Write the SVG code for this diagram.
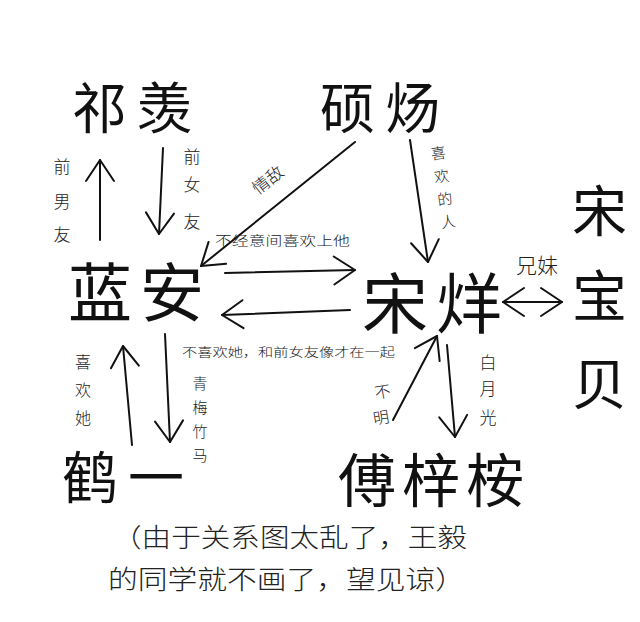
<svg xmlns="http://www.w3.org/2000/svg" width="640" height="622" viewBox="0 0 640 622">
<style>
.name{font-family:"Noto Sans CJK SC","Noto Sans CJK JP",sans-serif;fill:#111;font-weight:400}
.lbl{font-family:"Noto Sans CJK SC","Noto Sans CJK JP",sans-serif;fill:#222;font-weight:300;text-anchor:middle}
.cap{font-family:"Noto Sans CJK SC","Noto Sans CJK JP",sans-serif;fill:#222;font-weight:300}
.con{fill:none;stroke:#111;stroke-width:2;stroke-linecap:round}
</style>
<defs>
<marker id="ah" viewBox="-23 -16 26 32" markerWidth="26" markerHeight="32" refX="0" refY="0" orient="auto-start-reverse" markerUnits="userSpaceOnUse">
<path d="M-21,-14 L0,0 L-21,14" fill="none" stroke="#111" stroke-width="2" stroke-linecap="round" stroke-linejoin="round"/>
</marker>
</defs>
<rect width="640" height="622" fill="#fff"/>

<g id="connectors">
<line class="con" x1="100" y1="240" x2="100" y2="160" marker-end="url(#ah)"/>
<line class="con" x1="163" y1="148" x2="159" y2="234" marker-end="url(#ah)"/>
<line class="con" x1="355" y1="142" x2="201" y2="266" marker-end="url(#ah)"/>
<line class="con" x1="225" y1="273" x2="355" y2="270" marker-end="url(#ah)"/>
<line class="con" x1="350" y1="310" x2="222" y2="315" marker-end="url(#ah)"/>
<line class="con" x1="410" y1="140" x2="428" y2="262" marker-end="url(#ah)"/>
<line class="con" x1="503" y1="302" x2="562" y2="302" marker-start="url(#ah)" marker-end="url(#ah)"/>
<line class="con" x1="393" y1="420" x2="437" y2="336" marker-end="url(#ah)"/>
<line class="con" x1="447" y1="345" x2="455" y2="437" marker-end="url(#ah)"/>
<line class="con" x1="132" y1="445" x2="123" y2="346" marker-end="url(#ah)"/>
<line class="con" x1="165" y1="334" x2="170" y2="442" marker-end="url(#ah)"/>

<text class="lbl" font-size="17"><tspan x="62" y="173">前</tspan><tspan x="62" y="208">男</tspan><tspan x="62" y="241">友</tspan></text>
<text class="lbl" font-size="17"><tspan x="192" y="163">前</tspan><tspan x="192" y="191">女</tspan><tspan x="192" y="228">友</tspan></text>
<text class="lbl" font-size="17" transform="rotate(-38 268 180)" x="268" y="186">情敌</text>
<text class="cap" font-size="13" x="215" y="245" textLength="135" lengthAdjust="spacingAndGlyphs">不经意间喜欢上他</text>
<text class="cap" font-size="12" x="182" y="357" textLength="213" lengthAdjust="spacingAndGlyphs">不喜欢她，和前女友像才在一起</text>
<text class="lbl" font-size="15" transform="rotate(-8 447 185)"><tspan x="443" y="158">喜</tspan><tspan x="443" y="181">欢</tspan><tspan x="443" y="204">的</tspan><tspan x="443" y="227">人</tspan></text>
<text class="lbl" font-size="21" x="537" y="273">兄妹</text>
<text class="lbl" font-size="16" transform="rotate(-10 382 405)"><tspan x="385" y="398">不</tspan><tspan x="379" y="423">明</tspan></text>
<text class="lbl" font-size="17"><tspan x="488" y="369">白</tspan><tspan x="488" y="395">月</tspan><tspan x="488" y="424">光</tspan></text>
<text class="lbl" font-size="16"><tspan x="83" y="368">喜</tspan><tspan x="83" y="396">欢</tspan><tspan x="83" y="424">她</tspan></text>
<text class="lbl" font-size="15"><tspan x="200" y="389">青</tspan><tspan x="200" y="413">梅</tspan><tspan x="200" y="437">竹</tspan><tspan x="200" y="461">马</tspan></text>
</g>

<g id="qixian"><text class="name" font-size="55" x="72" y="128" letter-spacing="10">祁羡</text></g>
<g id="shuoyang"><text class="name" font-size="55" x="320" y="128" letter-spacing="10">硕炀</text></g>
<g id="lanan"><text class="name" font-size="64" x="68" y="316" letter-spacing="8">蓝安</text></g>
<g id="songyang"><text class="name" font-size="66" y="328"><tspan x="362">宋</tspan><tspan x="436">烊</tspan></text></g>
<g id="songbaobei"><text class="name" font-size="55"><tspan x="572" y="231">宋</tspan><tspan x="572" y="316">宝</tspan><tspan x="572" y="404">贝</tspan></text></g>
<g id="heyi"><text class="name" font-size="56" y="498"><tspan x="62">鹤</tspan><tspan x="128">一</tspan></text></g>
<g id="fuzian"><text class="name" font-size="58" x="338" y="502" letter-spacing="6">傅梓桉</text></g>

<g id="caption">
<text class="cap" font-size="26" x="112" y="547" textLength="355" lengthAdjust="spacingAndGlyphs">（由于关系图太乱了，王毅</text>
<text class="cap" font-size="26" x="108" y="589" textLength="357" lengthAdjust="spacingAndGlyphs">的同学就不画了，望见谅）</text>
</g>
</svg>
